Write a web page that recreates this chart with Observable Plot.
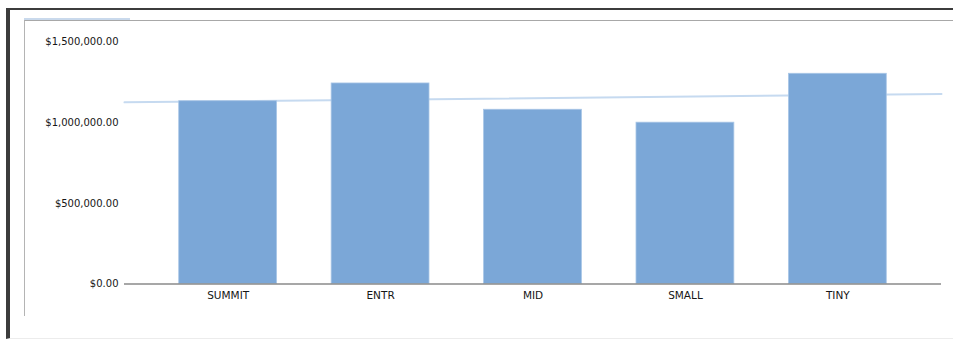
<!DOCTYPE html>
<html>
<head>
<meta charset="utf-8">
<script src="https://cdn.jsdelivr.net/npm/d3@7"></script>
<script src="https://cdn.jsdelivr.net/npm/@observablehq/plot@0.6"></script>
<style>
  html, body { margin: 0; padding: 0; background: #fff; }
  #wrap { position: relative; width: 953px; height: 339px; overflow: hidden; }
  .outer { position: absolute; left: 6px; top: 8px; right: -4px; bottom: 0;
           border-top: 2px solid #3c3c3c; border-left: 4px solid #3c3c3c;
           border-bottom: 1px solid #ececec; }
  .panel { position: absolute; left: 24px; top: 20px; width: 940px; height: 295px;
           border-top: 1px solid #a8a8a8; border-left: 1px solid #b4b4b4; }
  .sel { position: absolute; left: 24px; top: 18px; width: 106px; height: 2px; background: #c9d9ec; }
  #chart { position: absolute; left: 0; top: 0; }
</style>
</head>
<body>
<div id="wrap">
  <div class="outer"></div>
  <div class="panel"></div>
  <div class="sel"></div>
  <div id="chart"></div>
</div>
<script>
// Revenue by segment
const categories = ["SUMMIT", "ENTR", "MID", "SMALL", "TINY"];
const revenue = [1133000, 1243000, 1080000, 1000000, 1303000];
const yTicks = [0, 500000, 1000000, 1500000];

const rows = categories.map((name, i) => ({name, idx: i + 1, value: revenue[i]}));

// Least-squares linear trendline across the category positions
const xs = rows.map(d => d.idx);
const mx = d3.mean(xs), my = d3.mean(revenue);
const slope = d3.sum(rows, d => (d.idx - mx) * (d.value - my)) / d3.sum(xs, x => (x - mx) ** 2);
const intercept = my - slope * mx;
const xDomain = [0.32, 5.68];
const trend = xDomain.map(x => ({x, y: intercept + slope * x}));

const half = 0.321; // half of a bar's width, in category steps
const font = "'DejaVu Sans', Verdana, sans-serif";

const chart = Plot.plot({
  width: 953,
  height: 339,
  marginLeft: 124,
  marginRight: 12,
  marginTop: 41.5,
  marginBottom: 55.5,
  style: {background: "transparent", fontFamily: font, fontSize: "10px", color: "#161616"},
  x: {domain: xDomain, axis: null},
  y: {domain: [0, 1500000], axis: null},
  marks: [
    // trendline sits behind the bars
    Plot.line(trend, {x: "x", y: "y", stroke: "#c6daf0", strokeWidth: 2}),
    Plot.rectY(rows, {x1: d => d.idx - half, x2: d => d.idx + half, y: "value",
      fill: "#7ba7d7", stroke: "#a9c6e6", strokeWidth: 0.8}),
    Plot.ruleY([0], {stroke: "#8a8a8a", strokeWidth: 1.4}),
    Plot.axisY({ticks: yTicks, tickSize: 0, tickPadding: 6, label: null,
      tickFormat: d3.format("$,.2f"), fontSize: 10, fill: "#161616",
      style: {letterSpacing: "0.3px"}}),
    Plot.axisX({ticks: xs, tickSize: 0, tickPadding: 8, label: null,
      tickFormat: i => categories[i - 1], fontSize: 10.5, fill: "#161616",
      style: {letterSpacing: "1px"}})
  ]
});
document.getElementById("chart").append(chart);
</script>
</body>
</html>
